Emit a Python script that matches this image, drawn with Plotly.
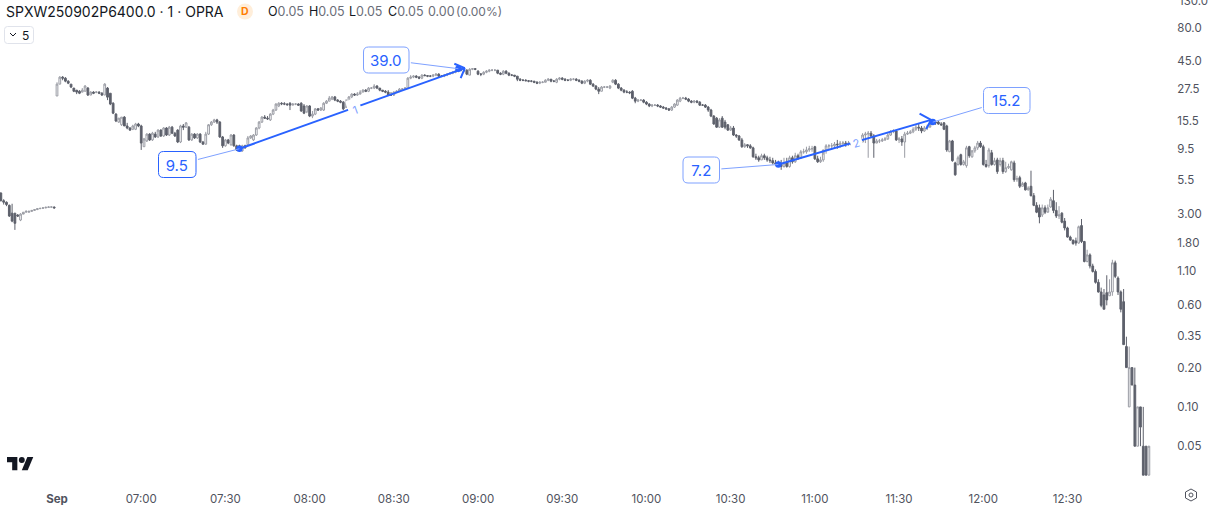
import math
import plotly.graph_objects as go

# ---- data (1-minute bars, prices in USD) ----
opens = [
 4.35,3.80,3.70,3.50,3.05,3.05,2.95,2.70,3.00,3.10,
 3.10,3.15,3.20,3.25,3.30,3.32,3.35,3.38,3.40,3.40,
 24.1,29.7,33.6,33.0,31.3,29.7,27.7,26.7,26.2,25.8,
 26.2,27.7,24.5,25.8,25.8,25.8,25.3,24.5,27.7,25.3,
 21.2,17.5,15.2,14.5,16.6,14.2,13.7,13.4,13.4,14.7,
 14.2,9.85,10.9,12.3,11.1,12.3,11.7,13.2,11.9,13.7,
 12.1,13.9,12.5,13.2,10.7,14.2,13.9,13.9,11.1,12.3,
 11.5,12.3,10.7,10.3,12.3,14.5,15.2,15.8,15.2,11.7,
 10.0,11.1,10.2,12.1,10.0,10.0,9.15,10.0,10.2,11.5,
 11.1,12.1,13.7,15.2,16.6,16.3,15.8,17.5,18.8,20.2,
 21.2,21.0,20.9,21.2,20.5,20.9,20.9,21.2,20.2,18.2,
 20.2,16.9,17.5,19.2,18.8,18.8,21.2,22.0,22.8,23.7,
 22.4,22.0,21.6,19.8,22.0,23.7,24.9,24.5,24.9,25.8,
 26.7,26.2,27.7,27.7,28.7,27.7,26.7,26.2,25.8,24.5,
 24.5,25.8,26.2,27.2,27.2,27.7,33.0,33.6,34.2,33.6,
 33.0,34.8,34.5,34.2,34.2,34.8,35.4,34.2,34.2,34.8,
 35.4,36.0,36.6,37.3,38.6,38.0,38.0,34.8,38.6,39.0,
 37.3,35.4,35.4,36.6,37.3,38.0,38.0,38.0,36.0,35.4,
 37.3,36.0,34.8,34.8,34.2,32.4,31.8,31.8,31.5,31.3,
 31.3,30.7,30.2,30.7,30.7,31.8,32.4,31.3,30.7,32.4,
 33.0,32.4,31.8,31.8,32.4,32.4,31.8,31.3,30.2,31.3,
 31.8,29.7,28.7,27.2,26.2,28.2,28.2,27.7,30.7,31.8,
 29.7,27.7,26.7,25.8,25.8,26.2,23.2,22.0,22.4,22.4,
 21.6,20.9,20.2,20.5,20.5,20.2,19.8,19.5,19.2,18.8,
 19.8,20.5,22.0,23.2,23.2,22.8,22.0,21.6,22.0,21.6,
 20.5,20.5,19.8,18.8,16.9,16.3,13.9,16.3,15.2,14.5,
 13.2,13.7,12.1,11.9,11.1,9.85,10.2,10.0,9.65,8.25,
 8.1,7.8,8.4,8.1,7.8,7.7,7.4,7.3,7.2,6.95,
 7.4,6.95,8.1,7.55,8.4,8.1,9.0,9.0,9.3,9.5,
 9.85,7.95,7.55,7.8,9.3,10.0,10.0,10.0,10.3,10.2,
 10.5,10.5,10.3,10.5,10.3,10.3,10.9,10.7,12.1,12.3,
 12.5,11.9,10.5,10.9,10.9,11.1,11.3,12.1,12.8,13.0,
 11.1,11.3,10.7,12.3,12.5,12.8,13.4,13.9,13.7,13.0,
 13.7,13.9,14.7,15.2,15.2,14.7,15.0,14.2,9.0,10.9,
 7.4,7.2,8.55,7.2,7.05,9.85,8.25,9.15,9.65,10.5,
 9.85,7.2,7.05,8.85,7.2,7.8,7.2,7.7,6.35,6.8,
 6.55,7.4,5.5,5.7,4.9,5.2,4.6,4.9,4.15,3.5,
 3.35,2.95,3.35,3.1,3.4,3.8,3.2,2.9,3.05,2.65,
 2.35,2.0,1.9,1.87,1.8,2.45,1.85,1.3,1.46,1.2,
 1.09,0.9,0.76,0.72,0.75,0.71,0.76,1.27,0.97,0.76,
 0.64,0.29,0.1,0.2,0.147,0.05,0.1,0.05,0.05,0.03,
]
highs = [
 4.40,3.90,3.75,3.55,3.60,3.05,3.00,3.05,3.10,3.20,
 3.18,3.22,3.27,3.32,3.35,3.38,3.42,3.44,3.44,3.42,
 30.7,34.2,34.2,33.6,31.8,29.7,27.7,26.7,26.7,27.7,
 29.2,28.2,26.2,26.2,26.2,26.2,25.8,30.2,28.2,25.3,
 21.6,17.8,16.3,16.6,16.9,15.0,13.9,14.5,15.0,15.0,
 14.5,11.5,12.5,12.5,12.8,12.8,13.4,13.4,13.9,13.9,
 14.2,14.2,12.8,13.4,14.5,14.7,15.2,14.2,12.5,12.5,
 12.5,12.5,10.9,12.8,14.7,15.5,16.1,16.1,15.5,11.9,
 11.3,11.3,12.3,12.3,10.2,10.2,10.2,10.2,11.9,12.1,
 12.3,13.9,15.5,16.9,17.2,16.9,17.8,19.2,21.2,21.6,
 21.6,21.6,21.2,21.6,21.2,21.2,21.2,21.6,20.9,20.5,
 20.5,18.5,19.5,19.5,19.8,21.6,22.4,24.1,24.1,24.1,
 22.8,22.4,22.0,22.8,24.1,25.3,25.3,25.8,26.7,27.2,
 27.2,28.2,28.2,29.7,29.2,27.7,26.7,26.7,26.7,25.8,
 26.2,26.7,27.7,27.7,28.2,33.6,34.8,34.8,34.8,34.2,
 35.4,35.4,34.8,34.8,35.4,36.0,36.0,34.8,35.4,36.0,
 36.6,37.3,38.0,39.3,39.3,39.3,38.6,39.3,39.3,39.3,
 38.0,36.0,37.3,38.0,38.6,38.6,38.6,38.0,36.6,38.0,
 38.0,36.6,35.4,34.8,34.2,33.0,32.4,32.4,31.8,31.8,
 31.3,31.3,31.3,31.3,32.4,33.0,32.4,31.8,33.0,33.6,
 33.6,33.0,32.4,33.0,33.0,33.0,32.4,31.8,31.8,32.4,
 32.4,30.2,29.2,28.2,28.7,28.7,28.7,29.2,32.4,32.4,
 30.2,28.2,27.2,26.7,26.2,26.7,23.7,22.8,22.8,22.8,
 22.0,21.2,20.9,20.9,20.9,20.5,20.2,19.8,19.5,20.2,
 21.2,22.8,23.7,23.7,23.7,23.2,22.4,22.4,22.4,22.0,
 20.9,20.9,20.2,19.2,17.2,16.6,16.3,16.9,15.8,14.7,
 14.2,14.2,12.3,12.1,11.5,10.5,10.3,10.3,9.85,8.7,
 8.4,8.7,8.7,8.4,8.25,8.1,7.8,7.7,7.8,8.1,
 8.1,8.4,8.4,8.85,8.7,9.3,9.5,9.85,10.0,10.0,
 10.0,8.4,8.25,8.55,10.3,10.3,10.5,10.7,11.1,10.9,
 10.9,10.9,10.9,10.9,10.7,11.3,11.3,12.5,12.8,13.0,
 13.0,12.3,11.3,11.3,11.5,11.7,12.5,13.2,13.4,13.2,
 11.7,11.9,12.8,13.0,13.2,13.9,14.5,14.7,14.2,14.2,
 14.5,15.2,15.5,15.5,15.5,15.2,15.2,14.5,11.1,11.1,
 7.55,8.4,8.7,7.8,10.0,10.0,9.3,10.0,10.9,10.9,
 10.2,7.8,9.65,9.3,8.1,8.1,8.1,8.1,7.55,7.3,
 7.7,7.7,5.9,5.9,5.3,5.3,4.9,6.45,4.35,3.7,
 3.55,3.55,3.5,3.55,4.05,4.6,3.7,3.45,3.1,2.8,
 2.4,2.05,1.9,1.98,2.45,2.75,1.87,1.6,1.5,1.25,
 1.13,0.95,0.82,0.8,1.02,0.95,1.34,1.32,1.0,0.78,
 0.8,0.345,0.29,0.2,0.2,0.1,0.1,0.1,0.05,0.05,
]
lows = [
 3.75,3.55,3.45,2.85,2.60,2.27,2.85,2.65,3.05,3.10,
 3.08,3.12,3.18,3.22,3.28,3.30,3.32,3.35,3.36,3.30,
 24.1,29.7,31.8,30.7,29.7,27.7,25.8,24.9,24.9,25.8,
 26.2,24.1,24.5,24.9,25.3,24.9,24.1,24.5,22.4,20.5,
 17.5,15.2,15.0,14.2,14.2,13.4,13.0,13.2,13.2,13.9,
 9.3,9.85,10.7,10.9,10.9,11.5,11.5,11.7,11.7,11.9,
 11.9,12.3,11.7,10.5,10.5,13.2,13.7,10.9,10.9,11.3,
 11.3,10.5,10.2,10.2,12.1,14.2,15.0,14.7,11.5,9.65,
 9.85,10.3,10.0,9.85,9.15,9.0,9.0,9.5,10.0,11.3,
 10.9,11.9,13.4,15.0,16.1,15.8,15.5,17.2,18.5,19.8,
 20.5,20.5,20.2,18.8,20.5,20.5,20.2,18.2,17.5,17.8,
 16.6,16.3,17.2,18.5,18.5,18.5,20.9,22.0,22.4,22.0,
 21.6,21.2,18.8,19.5,21.6,23.2,24.1,24.1,25.3,25.8,
 25.8,25.8,27.2,27.2,27.2,26.2,25.8,25.3,24.1,24.1,
 24.1,25.3,25.8,26.7,27.2,27.2,32.4,33.0,33.0,32.4,
 32.4,34.2,33.6,33.6,33.6,34.2,33.6,33.6,33.6,34.2,
 35.4,35.4,36.0,36.6,37.3,36.6,34.8,34.8,38.0,38.0,
 34.8,34.2,34.8,36.0,36.6,37.3,37.3,35.4,34.8,34.8,
 35.4,34.2,34.2,33.6,31.3,31.3,31.3,31.3,30.7,30.7,
 30.2,29.7,29.7,30.2,30.7,31.3,30.7,30.7,30.2,31.8,
 31.8,31.3,31.3,31.3,31.8,31.3,30.7,29.7,29.7,30.7,
 29.2,28.2,26.7,24.9,26.2,27.7,27.7,27.2,30.2,29.2,
 27.2,26.2,25.3,25.3,24.9,22.8,21.2,21.6,22.0,21.2,
 20.5,19.8,19.8,20.2,19.8,19.5,19.2,18.8,18.5,18.5,
 19.5,20.2,21.6,22.8,22.4,21.6,21.2,21.2,21.2,20.2,
 20.2,19.5,18.2,16.6,14.5,13.7,13.7,13.7,13.4,13.0,
 13.0,11.9,11.5,10.9,9.65,9.65,9.65,9.5,8.1,7.8,
 7.55,7.8,7.8,7.55,7.4,7.2,7.05,6.95,6.55,6.8,
 6.8,6.8,7.3,7.4,7.8,7.95,8.7,8.7,9.0,9.0,
 7.8,7.4,7.4,7.55,8.7,9.3,9.3,9.65,9.5,9.65,
 10.0,9.85,10.0,10.0,10.0,10.2,10.3,10.5,10.5,8.1,
 11.5,8.1,10.5,10.5,10.7,10.9,11.1,11.9,12.5,10.9,
 10.5,10.0,8.1,12.1,12.3,12.5,13.0,13.0,12.5,12.8,
 13.2,14.2,14.7,14.5,14.5,14.2,13.2,9.0,9.0,7.55,
 5.9,7.05,7.05,7.05,6.8,8.1,8.1,8.85,9.3,9.65,
 7.05,6.8,6.8,7.05,7.05,6.1,6.95,6.1,6.2,6.65,
 6.45,5.3,5.3,4.75,4.9,4.55,4.55,4.1,3.45,3.05,
 2.55,2.85,3.0,3.15,3.35,3.05,2.8,2.75,2.55,2.25,
 1.98,1.87,1.75,1.72,1.78,1.8,1.28,1.28,1.15,1.07,
 0.88,0.75,0.58,0.56,0.6,0.71,0.71,0.97,0.72,0.53,
 0.3,0.2,0.1,0.147,0.05,0.05,0.05,0.03,0.03,0.03,
]
closes = [
 3.80,3.70,3.55,2.90,2.65,2.55,2.90,3.00,3.10,3.15,
 3.15,3.20,3.25,3.30,3.32,3.35,3.38,3.40,3.40,3.35,
 29.7,33.6,33.0,31.3,30.2,28.2,26.2,25.8,25.3,26.7,
 28.7,24.5,25.8,25.3,25.8,25.3,24.5,29.7,23.6,20.9,
 17.8,15.5,16.3,16.6,14.2,13.7,13.2,14.2,14.7,14.2,
 10.5,11.3,12.3,11.1,12.5,11.7,13.2,11.9,13.7,12.1,
 13.9,12.5,11.9,10.7,14.2,13.9,15.0,11.1,12.3,11.5,
 12.3,10.7,10.3,12.3,14.5,15.2,15.8,15.2,11.7,10.0,
 11.1,10.5,12.1,10.0,9.3,9.3,10.0,9.65,11.5,11.9,
 12.1,13.7,15.2,16.6,16.3,16.1,17.5,18.8,20.9,21.2,
 21.0,20.9,20.7,20.5,20.9,20.9,20.5,18.5,17.8,20.2,
 16.9,17.5,19.2,18.8,19.5,21.2,22.0,23.2,23.7,22.4,
 22.0,21.6,19.2,22.0,23.7,24.9,24.5,24.9,25.8,26.7,
 26.2,27.7,27.7,28.7,27.7,26.7,26.2,25.8,24.5,24.5,
 25.8,26.2,27.2,27.2,27.7,33.0,33.6,34.2,33.6,33.0,
 34.8,34.5,34.2,34.2,34.8,35.4,34.2,34.2,34.8,35.4,
 36.0,36.6,37.3,38.6,38.3,38.0,35.4,38.6,39.0,38.6,
 35.4,35.4,36.6,37.3,38.0,38.0,38.0,36.0,35.4,37.3,
 36.0,34.8,34.8,34.2,32.4,31.8,31.8,31.5,31.3,31.3,
 30.7,30.2,30.7,30.7,31.8,32.4,31.3,31.3,32.4,33.0,
 32.4,31.8,31.8,32.4,32.4,31.8,31.3,30.2,31.3,31.8,
 29.7,28.7,27.2,26.2,28.2,28.2,28.2,28.7,31.8,29.7,
 27.7,26.7,25.8,25.8,25.5,23.2,22.0,22.4,22.4,21.6,
 20.9,20.2,20.5,20.5,20.2,19.8,19.5,19.2,18.8,19.8,
 20.9,22.4,23.2,23.2,22.8,22.0,21.6,22.0,21.6,20.5,
 20.5,19.8,18.8,16.9,14.7,13.9,15.8,13.9,13.9,13.2,
 13.7,12.1,11.9,11.1,9.85,10.2,10.0,9.65,8.25,8.1,
 7.8,8.4,8.1,7.8,7.7,7.4,7.3,7.2,6.95,7.4,
 6.95,8.1,7.55,8.4,8.1,9.0,9.0,9.3,9.5,9.5,
 7.95,7.55,7.8,9.3,10.0,10.0,10.0,10.3,10.2,10.5,
 10.5,10.3,10.5,10.3,10.3,10.9,10.7,12.1,12.3,12.5,
 11.9,10.5,10.9,10.9,11.1,11.3,12.1,12.8,13.0,11.1,
 11.3,10.7,12.3,12.5,12.8,13.4,13.9,13.7,13.0,13.7,
 13.9,14.7,15.2,15.0,14.7,14.5,13.4,9.3,10.9,7.7,
 6.0,8.1,7.2,7.55,9.65,8.4,9.15,9.65,10.5,9.85,
 7.2,6.95,9.3,7.2,7.7,6.35,7.7,6.35,6.8,6.95,
 7.55,5.5,5.6,4.9,5.15,4.6,4.75,4.15,3.5,3.1,
 2.85,3.35,3.1,3.35,3.9,3.2,2.9,2.95,2.6,2.35,
 2.0,1.9,1.78,1.8,2.4,1.85,1.3,1.46,1.2,1.09,
 0.9,0.76,0.6,0.56,0.66,0.76,1.27,1.0,0.76,0.56,
 0.3,0.2,0.2,0.147,0.05,0.1,0.07,0.03,0.03,0.05,
]
bars = list(range(len(closes)))

time_tick_bars = [20, 50, 80, 110, 140, 170, 200, 230, 260, 290, 320, 350, 380]
time_tick_labels = ["<b>Sep</b>", "07:00", "07:30", "08:00", "08:30", "09:00", "09:30",
                    "10:00", "10:30", "11:00", "11:30", "12:00", "12:30"]
price_ticks = [80.0, 45.0, 27.5, 15.5, 9.5, 5.5, 3.0, 1.8, 1.1, 0.6, 0.35, 0.2, 0.1, 0.05]
price_labels = ["80.0", "45.0", "27.5", "15.5", "9.5", "5.5", "3.00", "1.80", "1.10",
                "0.60", "0.35", "0.20", "0.10", "0.05"]
top_price_label = "130.0"

wave_1_bars = [85, 165.3]
wave_1_prices = [9.5, 39.4]
wave_2_bars = [277, 331.4]
wave_2_prices = [7.2, 15.8]
pivot_bars = [85, 163, 277, 332]
pivot_prices = [9.5, 39.0, 7.2, 15.2]
pivot_labels = ["9.5", "39.0", "7.2", "15.2"]

# ---- layout constants (pixels) ----
W, H = 1209, 505
PLOT_R, PLOT_B = 1166, 477
BLUE = "#2962ff"
PALE = "#7ea1ff"
INK = "#131722"
GREY = "#6a6d78"
AXIS = "#50535e"
SANS = "Inter, 'Liberation Sans', sans-serif"


def fx(x):
    return x / PLOT_R


def fy(y):
    return 1 - y / PLOT_B


def rounded(x0, y0, x1, y1, r):
    return (f"M{fx(x0+r)},{fy(y0)} L{fx(x1-r)},{fy(y0)} Q{fx(x1)},{fy(y0)} {fx(x1)},{fy(y0+r)} "
            f"L{fx(x1)},{fy(y1-r)} Q{fx(x1)},{fy(y1)} {fx(x1-r)},{fy(y1)} "
            f"L{fx(x0+r)},{fy(y1)} Q{fx(x0)},{fy(y1)} {fx(x0)},{fy(y1-r)} "
            f"L{fx(x0)},{fy(y0+r)} Q{fx(x0)},{fy(y0)} {fx(x0+r)},{fy(y0)} Z")


def poly(pts, close=False):
    s = "M" + " L".join(f"{fx(a)},{fy(b)}" for a, b in pts)
    return s + (" Z" if close else "")


fig = go.Figure()
fig.add_trace(go.Candlestick(
    x=bars, open=opens, high=highs, low=lows, close=closes,
    increasing=dict(line=dict(color="#9a9ca4", width=1), fillcolor="#ffffff"),
    decreasing=dict(line=dict(color="#5d606b", width=1), fillcolor="#5d606b"),
    whiskerwidth=0, showlegend=False, hoverinfo="skip",
))
for wx, wy in ((wave_1_bars, wave_1_prices), (wave_2_bars, wave_2_prices)):
    fig.add_trace(go.Scatter(x=wx, y=wy, mode="lines", line=dict(color=BLUE, width=2),
                             showlegend=False, hoverinfo="skip"))
fig.add_trace(go.Scatter(x=pivot_bars, y=pivot_prices, mode="markers",
                         marker=dict(color=BLUE, size=6.5), showlegend=False, hoverinfo="skip"))

shapes = []
annotations = []


def text(x, y, s, size=13, color=INK, anchor="left", **kw):
    annotations.append(dict(xref="paper", yref="paper", x=fx(x), y=fy(y), text=s, showarrow=False,
                            xanchor=anchor, yanchor="middle", font=dict(family=SANS, size=size, color=color),
                            borderpad=0, **kw))


# header
text(5, 12, "SPXW250902P6400.0 · 1 · OPRA", size=14)
shapes.append(dict(type="circle", xref="paper", yref="paper", x0=fx(237), x1=fx(253), y0=fy(19.5), y1=fy(3.5),
                   fillcolor="#ffeeda", line=dict(width=0)))
text(245, 12, "<b>D</b>", size=10.5, color="#ff7d00", anchor="center")
val = lambda s: f'<span style="color:{GREY}">{s}</span>'
text(267, 12, "O" + val("0.05"), size=12.5)
text(308, 12, "H" + val("0.05"), size=12.5)
text(348, 12, "L" + val("0.05"), size=12.5)
text(387, 12, "C" + val("0.05"), size=12.5)
text(427, 12, "0.00", size=12.5, color=GREY)
text(455, 12, "(0.00%)", size=12, color=GREY)

# price label that sits half off the top of the page
text(1178, 1, top_price_label, size=11.5, color=AXIS)

# collapse button
shapes.append(dict(type="path", xref="paper", yref="paper", path=rounded(4.5, 26.5, 33.5, 43.5, 3),
                   fillcolor="#ffffff", line=dict(color="#e0e3eb", width=1)))
shapes.append(dict(type="path", xref="paper", yref="paper", path=poly([(10, 33), (13, 36), (16, 33)]),
                   line=dict(color=INK, width=1)))
text(25.5, 35, "5", size=12, anchor="center")

# TradingView logo
LX, LY, LS = 7, 454, 0.74
logo = lambda pts: poly([(LX + LS * a, LY + LS * b) for a, b in pts], close=True)
shapes.append(dict(type="path", xref="paper", yref="paper", fillcolor=INK, line=dict(width=0),
                   path=logo([(14, 22), (7, 22), (7, 11), (0, 11), (0, 4), (14, 4)])))
shapes.append(dict(type="path", xref="paper", yref="paper", fillcolor=INK, line=dict(width=0),
                   path=logo([(28, 22), (20, 22), (27.5, 4), (35.5, 4)])))
shapes.append(dict(type="circle", xref="paper", yref="paper", fillcolor=INK, line=dict(width=0),
                   x0=fx(LX + LS * 16), x1=fx(LX + LS * 24), y0=fy(LY + LS * 4), y1=fy(LY + LS * 12)))

# settings icon
shapes.append(dict(type="path", xref="paper", yref="paper",
                   path=poly([(1191, 489), (1196.5, 492), (1196.5, 498), (1191, 501), (1185.5, 498), (1185.5, 492)], close=True),
                   line=dict(color=AXIS, width=1)))
shapes.append(dict(type="circle", xref="paper", yref="paper", x0=fx(1189), x1=fx(1193), y0=fy(497), y1=fy(493),
                   line=dict(color=AXIS, width=1)))

# pivot callouts: box centre offset from the pivot, in pixels
boxes = [(158.5, 151.5, 196, 177.5), (363.5, 47, 409, 73), (683, 157, 719.5, 183), (983.5, 87.5, 1030, 113.5)]
offsets = [(-62, 16), (-72, -9), (-77, 6), (74, -22)]
for b, p, label, box, (ax, ay) in zip(pivot_bars, pivot_prices, pivot_labels, boxes, offsets):
    shapes.append(dict(type="path", xref="paper", yref="paper", path=rounded(*box, 5),
                       fillcolor="#ffffff", line=dict(color=BLUE if label in ("9.5",) else PALE, width=1)))
    annotations.append(dict(x=b, y=math.log10(p), ax=ax, ay=ay, axref="pixel", ayref="pixel", text=label,
                            width=box[2] - box[0], height=box[3] - box[1], showarrow=True, arrowhead=0,
                            arrowwidth=1, arrowcolor=PALE, standoff=0,
                            font=dict(family=SANS, size=15, color=BLUE)))

# wave tips (chevrons) and wave numbers
for b, p, arms in ((wave_1_bars[1], wave_1_prices[1], [(-12, -5), (-5, 12)]),
                   (wave_2_bars[1], wave_2_prices[1], [(-13, -7), (-6, 11)])):
    for ax, ay in arms:
        annotations.append(dict(x=b, y=math.log10(p), ax=ax, ay=ay, text=" ", showarrow=True, arrowhead=0,
                                arrowwidth=2, arrowcolor=BLUE, standoff=0, font=dict(size=1)))
annotations.append(dict(x=126.2, y=math.log10(18.9), text="1", showarrow=False, textangle=-20, bgcolor="#ffffff",
                        font=dict(family=SANS, size=11, color=PALE), borderpad=4))
annotations.append(dict(x=305, y=math.log10(10.5), text="2", showarrow=False, textangle=-17, bgcolor="#ffffff",
                        font=dict(family=SANS, size=11, color=PALE), borderpad=2))

fig.update_layout(
    width=W, height=H, margin=dict(l=0, r=W - PLOT_R, t=0, b=H - PLOT_B, pad=0, autoexpand=False),
    paper_bgcolor="#ffffff", plot_bgcolor="#ffffff", showlegend=False, boxgap=0.12,
    shapes=shapes, annotations=annotations,
    xaxis=dict(range=[-0.31, 415.1], rangeslider=dict(visible=False), tickmode="array",
               tickvals=time_tick_bars, ticktext=time_tick_labels, showgrid=False, zeroline=False, showline=False,
               ticks="outside", ticklen=11, tickcolor="rgba(0,0,0,0)",
               tickfont=dict(family=SANS, size=11.5, color=AXIS)),
    yaxis=dict(type="log", side="right", range=[math.log10(0.02904), math.log10(131)], tickmode="array",
               tickvals=price_ticks, ticktext=price_labels, showgrid=False, zeroline=False, showline=False,
               ticks="outside", ticklen=8, tickcolor="rgba(0,0,0,0)",
               tickfont=dict(family=SANS, size=11.5, color=AXIS)),
)

fig.write_html("out.html", config=dict(displayModeBar=False),
               post_script="document.body.style.margin='0';document.body.style.overflow='hidden';")
